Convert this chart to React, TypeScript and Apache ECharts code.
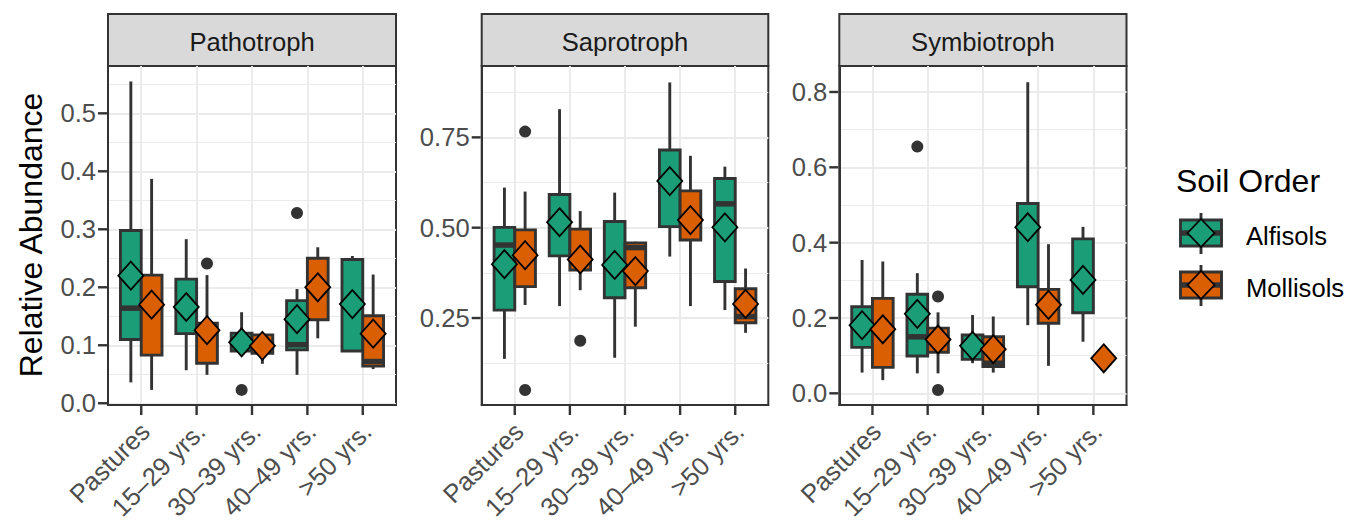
import React, { useEffect, useRef } from "react";
import * as echarts from "echarts";

const FONT = '"Liberation Sans", Arial, Helvetica, sans-serif';
const ALF_COLOR = "#1B9E77";
const MOL_COLOR = "#D95F02";
const DODGE = 0.1875;
const X_MIN = -0.6;
const X_MAX = 4.6;

const categories = ["Pastures", "15–29 yrs.", "30–39 yrs.", "40–49 yrs.", ">50 yrs."];
const soilOrders = ["Alfisols", "Mollisols"];
const panelTitles = ["Pathotroph", "Saprotroph", "Symbiotroph"];

// [lower whisker, Q1, median, Q3, upper whisker]
const pathoAlfBoxes = [
  [0.036, 0.110, 0.164, 0.298, 0.555],
  [0.057, 0.120, 0.165, 0.214, 0.283],
  [0.088, 0.090, 0.105, 0.121, 0.157],
  [0.049, 0.092, 0.101, 0.177, 0.197],
  [0.089, 0.090, 0.170, 0.248, 0.254],
];
const pathoAlfMeans = [0.220, 0.166, 0.105, 0.145, 0.171];
const pathoAlfOutliers = [[2, 0.023], [3, 0.328]];
const pathoMolBoxes = [
  [0.023, 0.083, 0.170, 0.221, 0.387],
  [0.049, 0.069, 0.125, 0.138, 0.221],
  [0.068, 0.086, 0.100, 0.118, 0.118],
  [0.112, 0.144, 0.200, 0.250, 0.269],
  [0.059, 0.064, 0.072, 0.151, 0.222],
];
const pathoMolMeans = [0.170, 0.126, 0.099, 0.200, 0.120];
const pathoMolOutliers = [[1, 0.241]];

const saproAlfBoxes = [
  [0.137, 0.272, 0.452, 0.501, 0.611],
  [0.283, 0.422, 0.515, 0.592, 0.828],
  [0.140, 0.306, 0.400, 0.517, 0.597],
  [0.420, 0.503, 0.630, 0.715, 0.902],
  [0.272, 0.351, 0.566, 0.636, 0.669],
];
const saproAlfMeans = [0.399, 0.515, 0.397, 0.629, 0.501];
const saproAlfOutliers: number[][] = [];
const saproMolBoxes = [
  [0.286, 0.337, 0.424, 0.494, 0.600],
  [0.327, 0.383, 0.412, 0.496, 0.546],
  [0.226, 0.334, 0.445, 0.458, 0.461],
  [0.283, 0.466, 0.520, 0.602, 0.699],
  [0.209, 0.237, 0.254, 0.331, 0.387],
];
const saproMolMeans = [0.424, 0.412, 0.380, 0.521, 0.289];
const saproMolOutliers = [[0, 0.766], [0, 0.051], [1, 0.187]];

const symbAlfBoxes = [
  [0.055, 0.122, 0.183, 0.230, 0.354],
  [0.053, 0.099, 0.150, 0.263, 0.319],
  [0.080, 0.090, 0.127, 0.155, 0.208],
  [0.181, 0.283, 0.440, 0.504, 0.826],
  [0.137, 0.214, 0.300, 0.410, 0.442],
];
const symbAlfMeans = [0.181, 0.211, 0.126, 0.441, 0.301];
const symbAlfOutliers = [[1, 0.655]];
const symbMolBoxes = [
  [0.035, 0.069, 0.170, 0.252, 0.350],
  [0.053, 0.109, 0.143, 0.173, 0.215],
  [0.055, 0.071, 0.080, 0.150, 0.204],
  [0.073, 0.186, 0.235, 0.276, 0.396],
  [0.093, 0.093, 0.093, 0.093, 0.093],
];
const symbMolMeans = [0.170, 0.143, 0.117, 0.235, 0.093];
const symbMolOutliers = [[1, 0.257], [1, 0.009]];

const pathoTicks = [0, 0.1, 0.2, 0.3, 0.4, 0.5];
const pathoMinor = [0.05, 0.15, 0.25, 0.35, 0.45, 0.55];
const saproTicks = [0.25, 0.5, 0.75];
const saproMinor = [0.125, 0.375, 0.625, 0.875];
const symbTicks = [0, 0.2, 0.4, 0.6, 0.8];
const symbMinor = [0.1, 0.3, 0.5, 0.7];

const panelData = [
  { alf: [pathoAlfBoxes, pathoAlfMeans, pathoAlfOutliers], mol: [pathoMolBoxes, pathoMolMeans, pathoMolOutliers], ticks: pathoTicks, minor: pathoMinor, decimals: 1 },
  { alf: [saproAlfBoxes, saproAlfMeans, saproAlfOutliers], mol: [saproMolBoxes, saproMolMeans, saproMolOutliers], ticks: saproTicks, minor: saproMinor, decimals: 2 },
  { alf: [symbAlfBoxes, symbAlfMeans, symbAlfOutliers], mol: [symbMolBoxes, symbMolMeans, symbMolOutliers], ticks: symbTicks, minor: symbMinor, decimals: 1 },
];

// layout (pixels) and axis ranges
const panelLayout = [
  { left: 108, width: 288, min: -0.003, max: 0.5816 },
  { left: 481.7, width: 286.6, min: 0.0093, max: 0.9475 },
  { left: 839.3, width: 287.2, min: -0.031, max: 0.869 },
];
const GRID_TOP = 66;
const GRID_H = 339;
const STRIP_TOP = 14;
const LINE_W = 2.9;
const TICK_LEN = 9;
const TICK_W = 2.4;
const AXIS_LINE = { show: true, onZero: false, lineStyle: { color: "#333333", width: 2 } };

function renderBox(color: string) {
  return function (params: any, api: any) {
    const x = api.value(0);
    const lo = api.coord([x, api.value(1)]);
    const q1 = api.coord([x, api.value(2)]);
    const med = api.coord([x, api.value(3)]);
    const q3 = api.coord([x, api.value(4)]);
    const hi = api.coord([x, api.value(5)]);
    const half = api.size([DODGE, 0])[0];
    const cx = lo[0];
    const stroke = "#333333";
    return {
      type: "group",
      children: [
        { type: "line", shape: { x1: cx, y1: hi[1], x2: cx, y2: q3[1] }, style: { stroke, lineWidth: LINE_W } },
        { type: "line", shape: { x1: cx, y1: q1[1], x2: cx, y2: lo[1] }, style: { stroke, lineWidth: LINE_W } },
        { type: "rect", shape: { x: cx - half, y: q3[1], width: half * 2, height: q1[1] - q3[1] }, style: { fill: color, stroke, lineWidth: LINE_W } },
        { type: "line", shape: { x1: cx - half, y1: med[1], x2: cx + half, y2: med[1] }, style: { stroke, lineWidth: 5.5 } },
      ],
    };
  };
}

function buildStaticGraphics() {
  const graphic: any[] = [];
  panelLayout.forEach((L, p) => {
    graphic.push({
      type: "rect", silent: true,
      shape: { x: L.left, y: STRIP_TOP, width: L.width, height: GRID_TOP - STRIP_TOP },
      style: { fill: "#D9D9D9", stroke: "#333333", lineWidth: 2 },
    });
    graphic.push({
      type: "text", silent: true, x: L.left + L.width / 2, y: 42,
      style: { text: panelTitles[p], fill: "#1A1A1A", font: `25.6px ${FONT}`, textAlign: "center", textVerticalAlign: "middle" },
    });
  });
  graphic.push({
    type: "text", silent: true, x: 31, y: 235, rotation: Math.PI / 2,
    style: { text: "Relative Abundance", fill: "#000000", font: `32px ${FONT}`, textAlign: "center", textVerticalAlign: "middle" },
  });
  graphic.push({
    type: "text", silent: true, x: 1176, y: 181,
    style: { text: "Soil Order", fill: "#000000", font: `32px ${FONT}`, textAlign: "left", textVerticalAlign: "middle" },
  });
  const keyColors = [ALF_COLOR, MOL_COLOR];
  const keyY = [233, 285];
  soilOrders.forEach((name, k) => {
    const cy = keyY[k];
    const cx = 1201;
    graphic.push({ type: "line", silent: true, shape: { x1: cx, y1: cy - 20, x2: cx, y2: cy + 21 }, style: { stroke: "#333333", lineWidth: LINE_W } });
    graphic.push({ type: "rect", silent: true, shape: { x: cx - 20.5, y: cy - 13, width: 41, height: 26 }, style: { fill: keyColors[k], stroke: "#333333", lineWidth: LINE_W } });
    graphic.push({ type: "line", silent: true, shape: { x1: cx - 20.5, y1: cy, x2: cx + 20.5, y2: cy }, style: { stroke: "#333333", lineWidth: 5.5 } });
    graphic.push({
      type: "polygon", silent: true,
      shape: { points: [[cx, cy - 14], [cx + 13.5, cy], [cx, cy + 14], [cx - 13.5, cy]] },
      style: { fill: keyColors[k], stroke: "#000000", lineWidth: 1.8 },
    });
    graphic.push({
      type: "text", silent: true, x: 1246, y: cy + 3,
      style: { text: name, fill: "#000000", font: `25.6px ${FONT}`, textAlign: "left", textVerticalAlign: "middle" },
    });
  });
  return graphic;
}

function buildOption() {
  const grid: any[] = [];
  const xAxis: any[] = [];
  const yAxis: any[] = [];
  const series: any[] = [];
  const catIdx = categories.map((_, i) => i);

  panelLayout.forEach((L, p) => {
    const D = panelData[p];
    grid.push({
      left: L.left, top: GRID_TOP, width: L.width, height: GRID_H,
      show: true, borderColor: "#333333", borderWidth: 2, backgroundColor: "#ffffff",
    });
    xAxis.push({
      type: "value", gridIndex: p, min: X_MIN, max: X_MAX, position: "bottom",
      axisLine: AXIS_LINE,
      axisTick: { show: false, customValues: catIdx },
      axisLabel: {
        customValues: catIdx, formatter: (v: number) => categories[Math.round(v)],
        rotate: 45, fontSize: 25.6, color: "#4D4D4D", fontFamily: FONT, margin: 18,
        align: "right", verticalAlign: "top", lineHeight: 11.5,
      },
      splitLine: { show: true, lineStyle: { color: "#EBEBEB", width: 2 } },
    });
    yAxis.push({
      type: "value", gridIndex: p, min: L.min, max: L.max, position: "left",
      axisLine: AXIS_LINE,
      axisTick: { show: false, customValues: D.ticks },
      axisLabel: {
        customValues: D.ticks, formatter: (v: number) => v.toFixed(D.decimals),
        fontSize: 25.6, color: "#4D4D4D", fontFamily: FONT, margin: 12,
      },
      splitLine: { show: true, lineStyle: { color: "#EBEBEB", width: 2 } },
    });
    yAxis.push({
      type: "value", gridIndex: p, min: L.min, max: L.max, position: "right",
      axisLine: { show: false, onZero: false },
      axisTick: { show: false, customValues: D.minor },
      axisLabel: { show: false, customValues: D.minor },
      splitLine: { show: true, lineStyle: { color: "#EBEBEB", width: 1.2 } },
    });

    const groups = [
      { data: D.alf, color: ALF_COLOR, off: -DODGE, name: soilOrders[0] },
      { data: D.mol, color: MOL_COLOR, off: DODGE, name: soilOrders[1] },
    ];
    groups.forEach((g) => {
      const boxes = g.data[0] as number[][];
      const means = g.data[1] as number[];
      const outs = g.data[2] as number[][];
      series.push({
        type: "custom", name: g.name, xAxisIndex: p, yAxisIndex: p * 2, z: 2,
        renderItem: renderBox(g.color),
        encode: { x: 0, y: [1, 2, 3, 4, 5] },
        data: boxes.map((b, i) => [i + g.off, ...b]),
        silent: true,
      });
      series.push({
        type: "scatter", name: g.name + " outliers", xAxisIndex: p, yAxisIndex: p * 2, z: 3,
        symbol: "circle", symbolSize: 12,
        itemStyle: { color: "#333333", opacity: 1 },
        data: outs.map((o) => [o[0] + g.off, o[1]]),
        silent: true,
      });
      series.push({
        type: "scatter", name: g.name + " mean", xAxisIndex: p, yAxisIndex: p * 2, z: 4,
        symbol: "diamond", symbolSize: [25, 28],
        itemStyle: { color: g.color, borderColor: "#000000", borderWidth: 1.8, opacity: 1 },
        data: means.map((m, i) => [i + g.off, m]),
        silent: true,
      });
    });
  });

  return {
    animation: false,
    backgroundColor: "#ffffff",
    textStyle: { fontFamily: FONT },
    grid, xAxis, yAxis, series,
    graphic: buildStaticGraphics(),
  };
}

// tick marks placed through the axes' own scales (convertToPixel)
function buildTickGraphics(chart: any) {
  const out: any[] = [];
  panelLayout.forEach((L, p) => {
    const D = panelData[p];
    const finder = { gridIndex: p };
    D.ticks.forEach((v) => {
      const pt = chart.convertToPixel(finder, [X_MIN, v]);
      if (!pt) return;
      out.push({
        type: "rect", silent: true, z: 100,
        shape: { x: pt[0] - 1 - TICK_LEN, y: pt[1] - TICK_W / 2, width: TICK_LEN, height: TICK_W },
        style: { fill: "#333333" },
      });
    });
    categories.forEach((_, i) => {
      const pt = chart.convertToPixel(finder, [i, L.min]);
      if (!pt) return;
      out.push({
        type: "rect", silent: true, z: 100,
        shape: { x: pt[0] - TICK_W / 2, y: pt[1] + 1, width: TICK_W, height: TICK_LEN },
        style: { fill: "#333333" },
      });
    });
  });
  return out;
}

export default function App() {
  const ref = useRef<HTMLDivElement>(null);
  useEffect(() => {
    if (!ref.current) return;
    const chart = echarts.init(ref.current, undefined, { renderer: "svg" });
    chart.setOption(buildOption() as any);
    const ticks = buildTickGraphics(chart);
    chart.setOption({ graphic: [...buildStaticGraphics(), ...ticks] } as any);
    return () => chart.dispose();
  }, []);
  return (
    <div
      ref={ref}
      style={{ position: "absolute", left: 0, top: 0, width: 1350, height: 523, background: "#fff" }}
    />
  );
}
